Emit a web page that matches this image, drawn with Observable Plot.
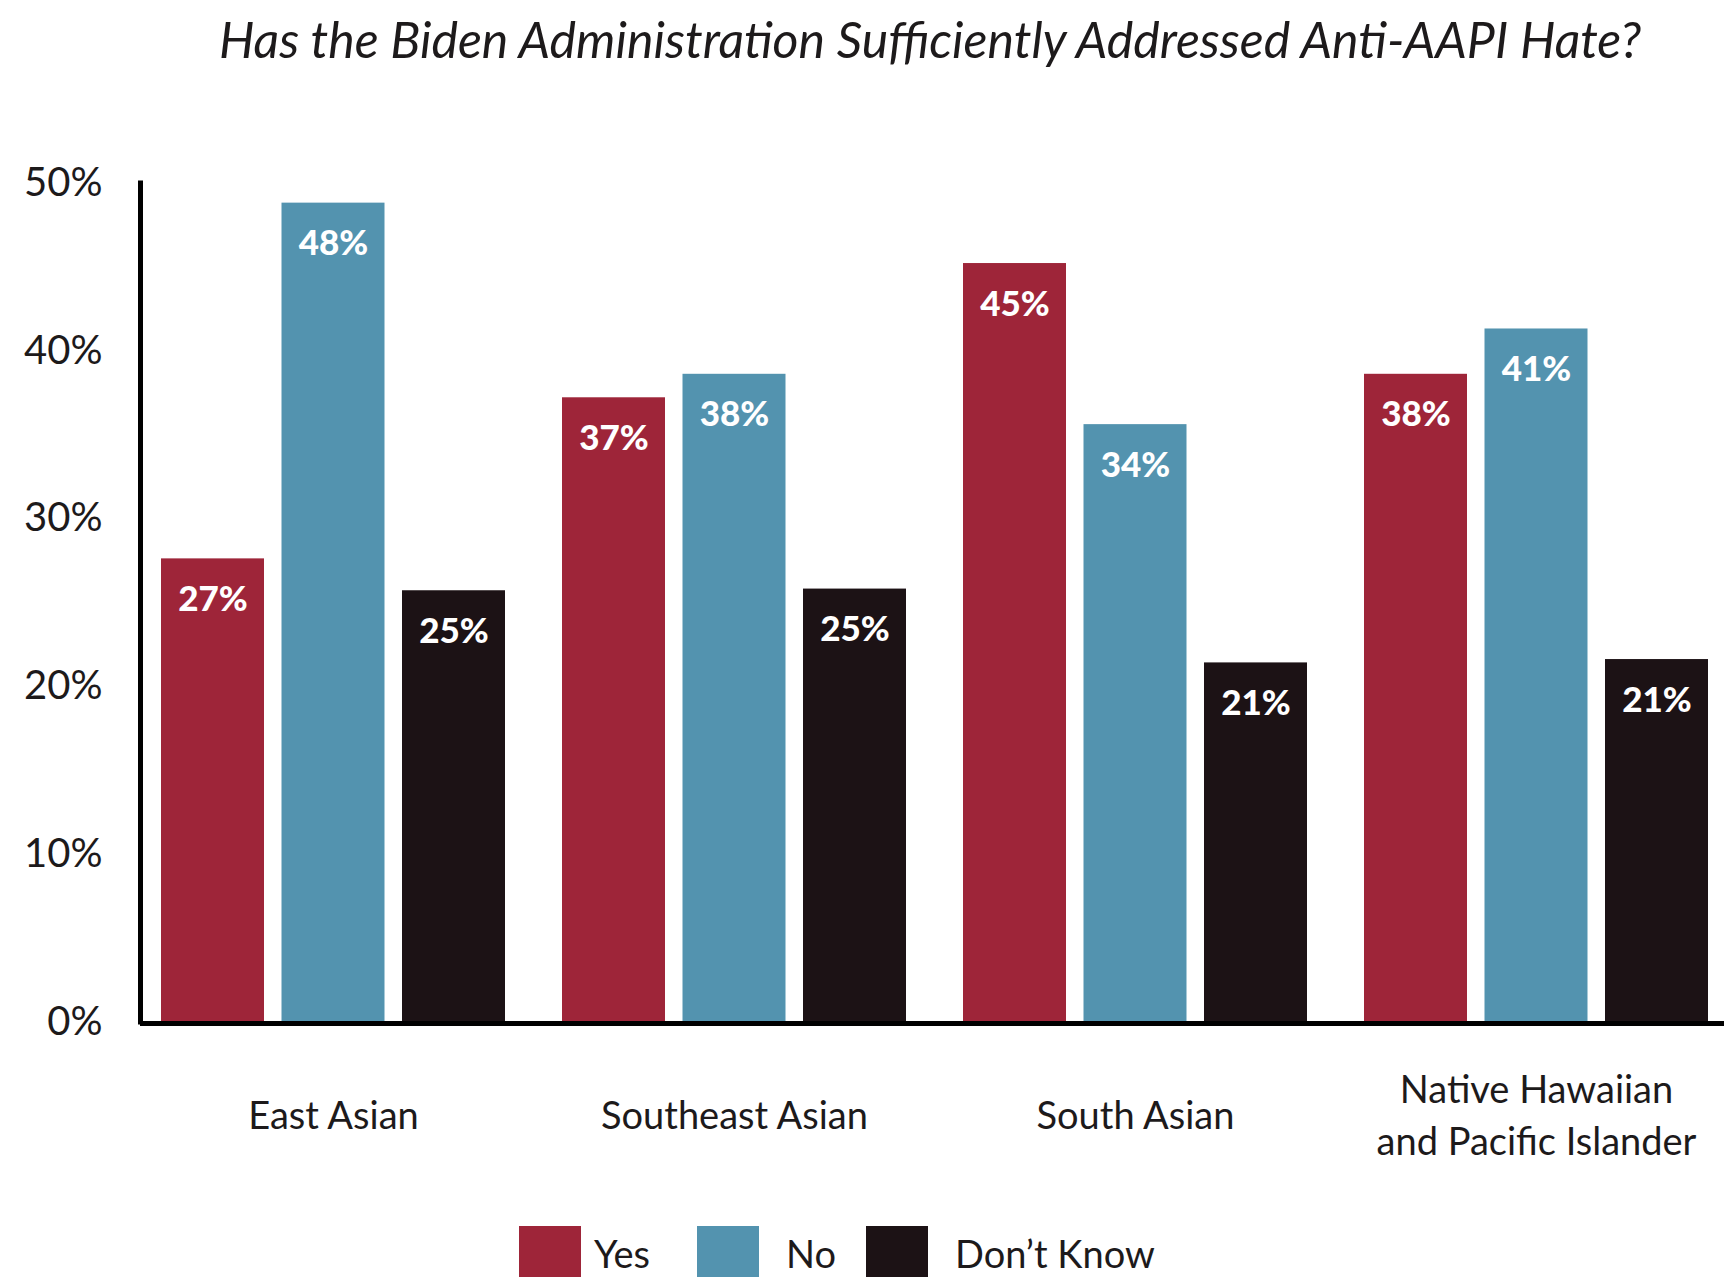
<!DOCTYPE html>
<html>
<head>
<meta charset="utf-8">
<script src="https://cdn.jsdelivr.net/npm/d3@7"></script>
<script src="https://cdn.jsdelivr.net/npm/@observablehq/plot@0.6"></script>
<style>
  body { margin: 0; background: #fff; }
  #page { position: relative; width: 1724px; height: 1277px; overflow: hidden; font-family: Lato, "Open Sans", sans-serif; color: #1d1a1b; background: #fff; }
  #title { position: absolute; left: 0; width: 1860px; top: 14px; text-align: center; font-style: italic; font-size: 50px; line-height: 1; white-space: nowrap; }
  #chart { position: absolute; left: 0; top: 100px; }
  .sw { position: absolute; top: 1226px; width: 62px; height: 62px; }
  .lt { position: absolute; top: 1228px; font-size: 38px; line-height: 50px; white-space: nowrap; }
</style>
</head>
<body>
<div id="page">
  <div id="title"></div>
  <div id="chart"></div>
  <div id="legend"></div>
</div>
<script>
const titleText = "Has the Biden Administration Sufficiently Addressed Anti-AAPI Hate?";
const groups = ["East Asian", "Southeast Asian", "South Asian", "Native Hawaiian\nand Pacific Islander"];
const answers = ["Yes", "No", "Don’t Know"];
const colors = ["#9e2539", "#5393af", "#1c1215"];
// bar heights as drawn (percent)
const yesValues = [27.6, 37.2, 45.2, 38.6];
const noValues  = [48.8, 38.6, 35.6, 41.3];
const dkValues  = [25.7, 25.8, 21.4, 21.6];
// printed labels
const yesLabels = ["27%", "37%", "45%", "38%"];
const noLabels  = ["48%", "38%", "34%", "41%"];
const dkLabels  = ["25%", "25%", "21%", "21%"];
const yTicks = [0, 10, 20, 30, 40, 50];

const series = [yesValues, noValues, dkValues];
const seriesLabels = [yesLabels, noLabels, dkLabels];
const rows = groups.flatMap((g, i) => answers.map((a, j) => ({
  group: g, answer: a, value: series[j][i], label: seriesLabels[j][i]
})));

document.getElementById("title").textContent = titleText;

const barStep = 120.5;   // px between bars inside a group
const groupBand = 344.7; // px width of a group band
const barW = 103.7;

const marks = [];
answers.forEach((a, j) => {
  const sub = rows.filter(d => d.answer === a);
  marks.push(Plot.barY(sub, {
    x: "group", y: "value", fill: colors[j],
    insetLeft: j * barStep, insetRight: groupBand - barW - j * barStep
  }));
  marks.push(Plot.text(sub, {
    x: "group", y: "value", text: "label", dx: (j - 1) * barStep, dy: 41,
    fill: "white", fontWeight: 900, fontSize: 35, fontFamily: "Lato, sans-serif"
  }));
});
marks.push(Plot.axisY({ticks: yTicks, tickFormat: d => d + "%", tickSize: 0, tickPadding: 38, label: null,
  fontSize: 40, fill: "#1d1a1b", fontFamily: "Lato, sans-serif"}));
marks.push(Plot.text(groups, {x: d => d, text: d => d, frameAnchor: "bottom", dy: 90.5,
  lineAnchor: "middle", lineHeight: 1.37, fontSize: 38, fill: "#1d1a1b", fontFamily: "Lato, sans-serif"}));
marks.push(Plot.frame({anchor: "left", stroke: "#000", strokeWidth: 5}));
marks.push(Plot.ruleY([0], {stroke: "#000", strokeWidth: 5, dy: 1.5}));

const chart = Plot.plot({
  width: 1724,
  height: 1100,
  marginLeft: 140,
  marginRight: 0,
  marginTop: 82.5,
  marginBottom: 178.5,
  style: {background: "transparent", fontFamily: "Lato, sans-serif", overflow: "visible"},
  x: {type: "band", domain: groups, paddingInner: 0.1423, paddingOuter: 0.0418, align: 0.576, axis: null},
  y: {domain: [0, 50], axis: null},
  marks
});
document.getElementById("chart").appendChild(chart);

// legend
const legend = document.getElementById("legend");
const swLeft = [519, 697, 866];
const txtLeft = [594, 786, 955];
answers.forEach((a, j) => {
  const s = document.createElement("div");
  s.className = "sw"; s.style.left = swLeft[j] + "px"; s.style.background = colors[j];
  legend.appendChild(s);
  const t = document.createElement("div");
  t.className = "lt"; t.style.left = txtLeft[j] + "px"; t.textContent = a;
  legend.appendChild(t);
});
</script>
</body>
</html>
